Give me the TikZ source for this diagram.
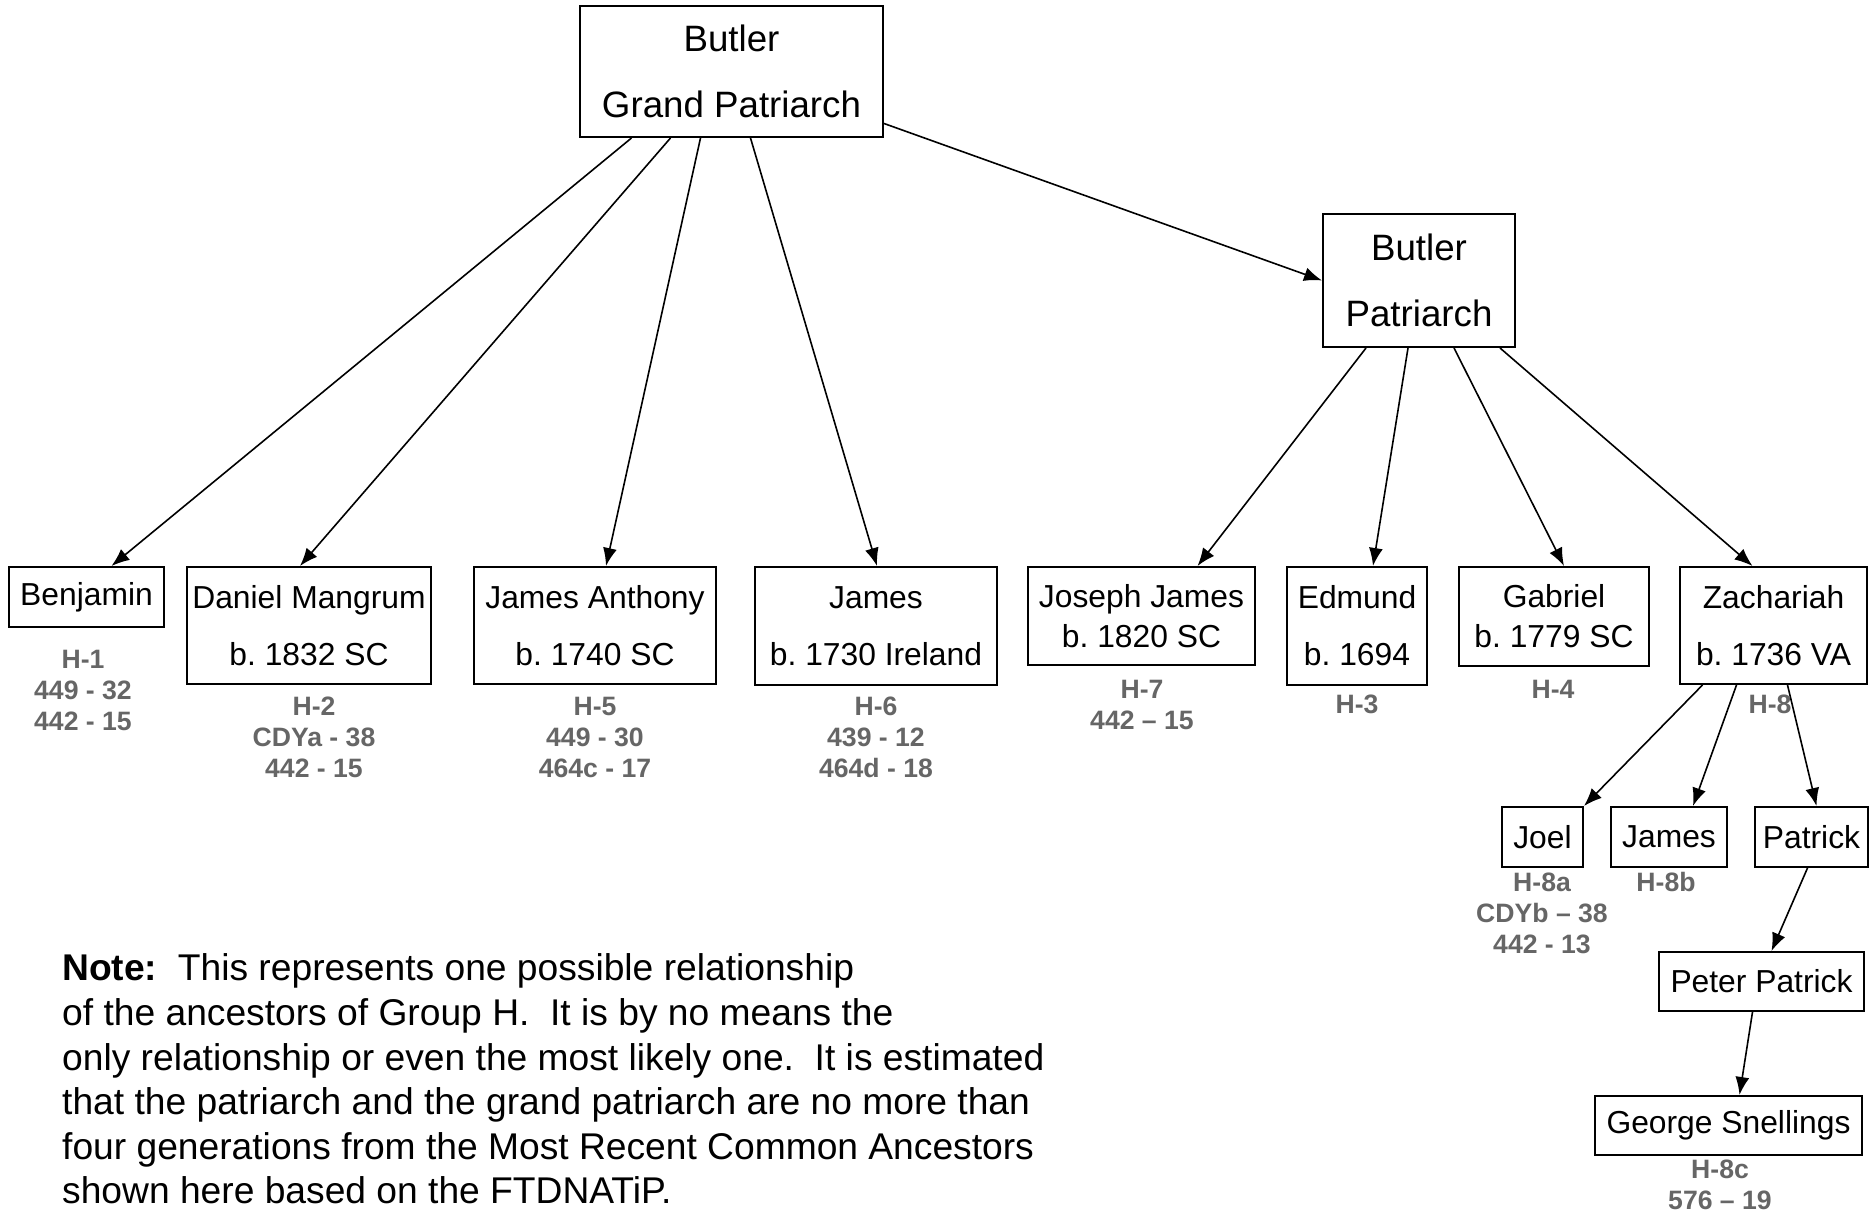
\documentclass[tikz,border=0pt]{standalone}
\usepackage{fontspec}
\setmainfont{Liberation Sans}
\usetikzlibrary{arrows.meta}
\definecolor{hapgray}{RGB}{102,102,102}
\frenchspacing

\begin{document}
\begin{tikzpicture}[x=1pt,y=-1pt,
    elder/.style={draw,line width=2pt,align=center,inner sep=0pt,font=\fontsize{36.7}{42}\selectfont},
    person/.style={draw,line width=2pt,align=center,inner sep=0pt,font=\fontsize{31.8}{40}\selectfont},
    haplo/.style={align=center,inner sep=0pt,text=hapgray,font=\fontsize{26.6}{31}\selectfont\bfseries},
    arr/.style={line width=1.6pt,-{Latex[length=18pt,width=14pt]}}] % Butler Group H
  \useasboundingbox (0,0) rectangle (1869,1214);
  \node[elder,minimum width=303pt,minimum height=131pt] (gp) at (731.5,71.5) {Butler\\[24pt]Grand Patriarch};
  \node[elder,minimum width=192pt,minimum height=133pt] (pat) at (1419,280.5) {Butler\\[24pt]Patriarch};
  \node[person,minimum width=155pt,minimum height=60pt] (benj) at (86.5,597) {Benjamin};
  \node[person,minimum width=244pt,minimum height=117pt] (dan) at (309,625.5) {Daniel Mangrum\\[17pt]b. 1832 SC};
  \node[person,minimum width=242pt,minimum height=117pt] (jant) at (595,625.5) {James Anthony\\[17pt]b. 1740 SC};
  \node[person,minimum width=242pt,minimum height=118pt] (jam) at (876,626) {James\\[17pt]b. 1730 Ireland};
  \node[person,minimum width=227pt,minimum height=98pt] (jos) at (1141.5,616) {Joseph James\\b. 1820 SC};
  \node[person,minimum width=140pt,minimum height=118pt] (edm) at (1357,626) {Edmund\\[17pt]b. 1694};
  \node[person,minimum width=190pt,minimum height=99pt] (gab) at (1554,616.5) {Gabriel\\b. 1779 SC};
  \node[person,minimum width=187pt,minimum height=117pt] (zach) at (1773.5,625.5) {Zachariah\\[17pt]b. 1736 VA};
  \node[person,minimum width=81pt,minimum height=60pt] (joel) at (1542.5,837) {Joel};
  \node[person,minimum width=116pt,minimum height=60pt] (jamb) at (1669,837) {James};
  \node[person,minimum width=113pt,minimum height=60pt] (patr) at (1811.5,837) {Patrick};
  \node[person,minimum width=205pt,minimum height=59pt] (peter) at (1761.5,981.5) {Peter Patrick};
  \node[person,minimum width=267pt,minimum height=59pt] (geo) at (1728.5,1125.5) {George Snellings};
  \node[haplo] (h1) at (83,690) {H-1\\449 - 32\\442 - 15};
  \node[haplo] (h2) at (314,737) {H-2\\CDYa - 38\\442 - 15};
  \node[haplo] (h5) at (595,737) {H-5\\449 - 30\\464c - 17};
  \node[haplo] (h6) at (876,737) {H-6\\439 - 12\\464d - 18};
  \node[haplo] (h7) at (1142,705) {H-7\\442 -- 15};
  \node[haplo] (h3) at (1357,704) {H-3};
  \node[haplo] (h4) at (1553,689) {H-4};
  \node[haplo] (h8) at (1770,704) {H-8};
  \node[haplo] (h8a) at (1542,913) {H-8a\\CDYb -- 38\\442 - 13};
  \node[haplo] (h8b) at (1666,882) {H-8b};
  \node[haplo] (h8c) at (1720,1185) {H-8c\\576 -- 19};
  \node[anchor=west,align=left,inner sep=0pt,font=\fontsize{37.2}{44.6}\selectfont] (note) at (62,1079)
    {\textbf{Note:}\ \ This represents one possible relationship\\
     of the ancestors of Group H.\ \ It is by no means the\\
     only relationship or even the most likely one.\ \ It is estimated\\
     that the patriarch and the grand patriarch are no more than\\
     four generations from the Most Recent Common Ancestors\\
     shown here based on the FTDNATiP.};
  \draw[arr] ([xshift=-100pt]gp.south) -- ([xshift=25pt]benj.north);
  \draw[arr] ([xshift=-61pt]gp.south) -- ([xshift=-9pt]dan.north);
  \draw[arr] ([xshift=-31pt]gp.south) -- ([xshift=11pt]jant.north);
  \draw[arr] ([xshift=19pt]gp.south) -- ([xshift=1pt]jam.north);
  \draw[arr] ([yshift=-52pt]gp.east) -- (pat.west);
  \draw[arr] ([xshift=-53pt]pat.south) -- ([xshift=56pt]jos.north);
  \draw[arr] ([xshift=-11pt]pat.south) -- ([xshift=16pt]edm.north);
  \draw[arr] ([xshift=35pt]pat.south) -- ([xshift=10pt]gab.north);
  \draw[arr] ([xshift=81pt]pat.south) -- ([xshift=-21pt]zach.north);
  \draw[arr] ([xshift=-71pt]zach.south) -- (joel.north east);
  \draw[arr] ([xshift=-37pt]zach.south) -- ([xshift=24pt]jamb.north);
  \draw[arr] ([xshift=14pt]zach.south) -- ([xshift=5pt]patr.north);
  \draw[arr] ([xshift=-4pt]patr.south) -- ([xshift=10pt]peter.north);
  \draw[arr] ([xshift=-9pt]peter.south) -- ([xshift=11pt]geo.north);
\end{tikzpicture}
\end{document}
